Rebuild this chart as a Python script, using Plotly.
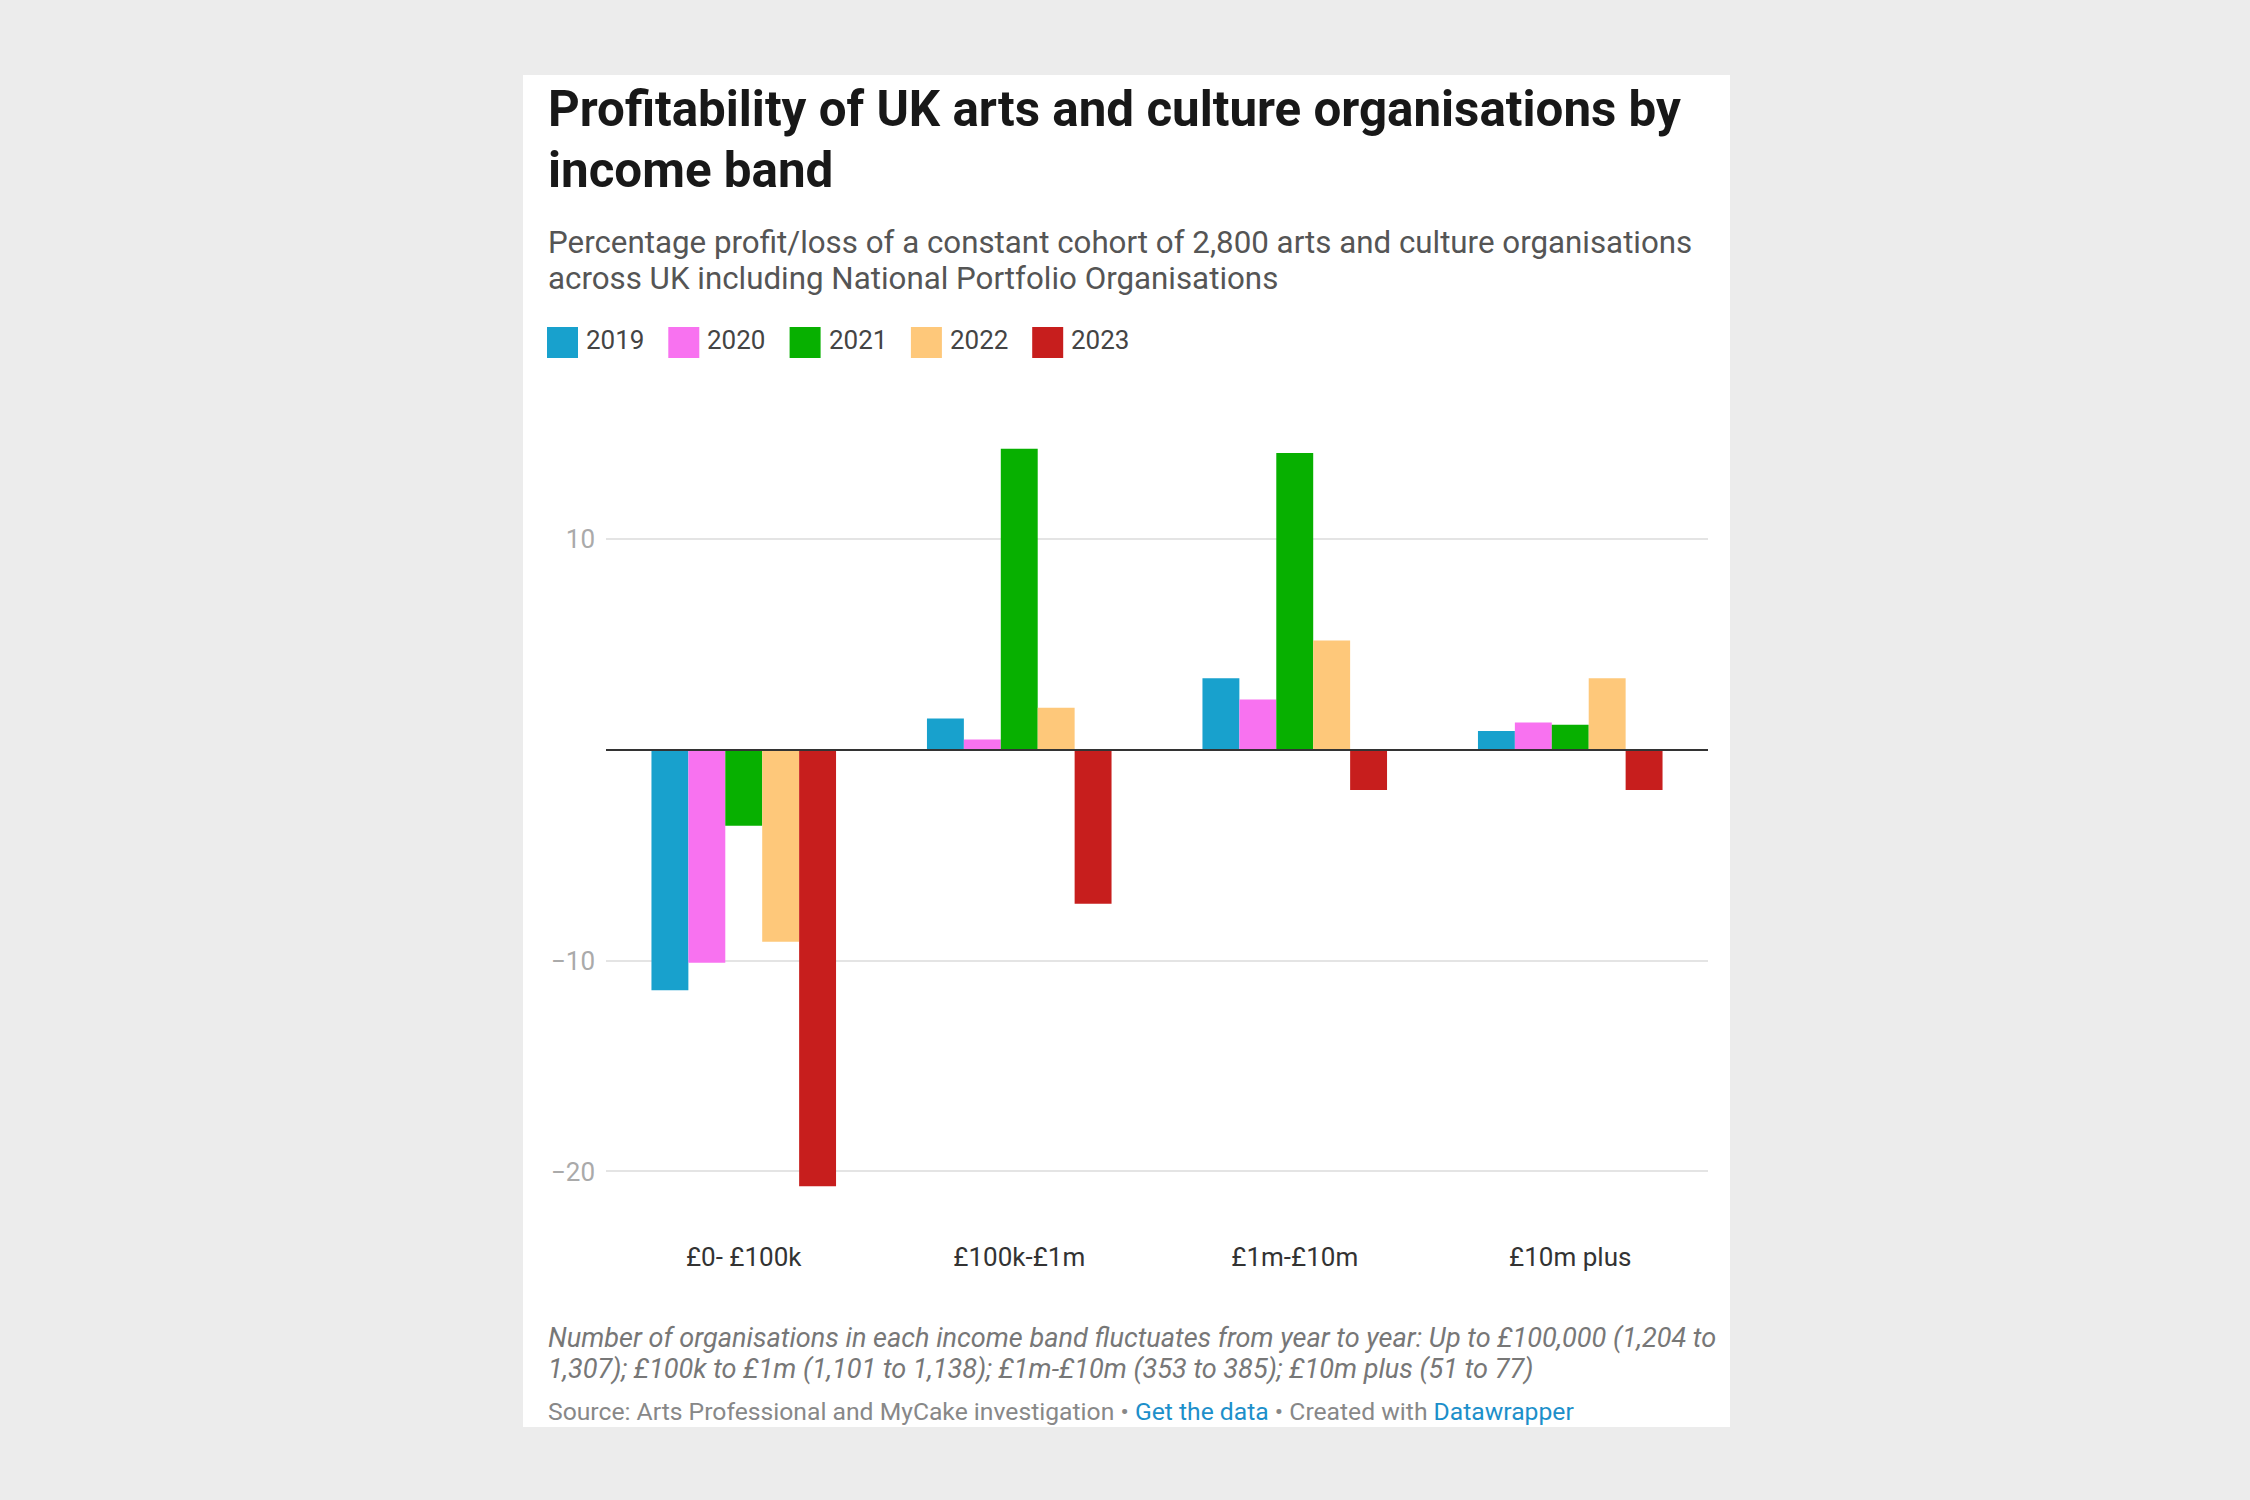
import plotly.graph_objects as go

# ---------------- data ----------------
categories = ["£0- £100k", "£100k-£1m", "£1m-£10m", "£10m plus"]
years = ["2019", "2020", "2021", "2022", "2023"]
colors = ["#18a1cd", "#f872f0", "#07b000", "#fec87a", "#c71e1d"]
v2019 = [-11.4, 1.5, 3.4, 0.9]
v2020 = [-10.1, 0.5, 2.4, 1.3]
v2021 = [-3.6, 14.3, 14.1, 1.2]
v2022 = [-9.1, 2.0, 5.2, 3.4]
v2023 = [-20.7, -7.3, -1.9, -1.9]
series = [v2019, v2020, v2021, v2022, v2023]
ytick_vals = [-20, -10, 10]

title_lines = ["Profitability of UK arts and culture organisations by", "income band"]
subtitle_lines = ["Percentage profit/loss of a constant cohort of 2,800 arts and culture organisations",
                  "across UK including National Portfolio Organisations"]
note_lines = ["Number of organisations in each income band fluctuates from year to year: Up to £100,000 (1,204 to",
              "1,307); £100k to £1m (1,101 to 1,138); £1m-£10m (353 to 385); £10m plus (51 to 77)"]

W, H = 2250, 1500
FONT = "Roboto"

def px(x):
    return x / W

def py(y):
    return 1 - y / H

fig = go.Figure()
for yr, col, vals in zip(years, colors, series):
    fig.add_trace(go.Bar(name=yr, x=categories, y=vals, marker=dict(color=col, line=dict(width=0)),
                         showlegend=False))

# card background
shapes = [dict(type="rect", xref="paper", yref="paper", x0=px(523), x1=px(1730), y0=py(1427), y1=py(75),
               fillcolor="white", line=dict(width=0), layer="below")]
# zero baseline above bars
shapes.append(dict(type="line", xref="x domain", yref="y", x0=0, x1=1, y0=0, y1=0,
                   line=dict(color="#333333", width=2), layer="above"))

annotations = []
# title
for t, yc in zip(title_lines, [109, 170]):
    annotations.append(dict(text="<b>" + t + "</b>", x=px(546), y=py(yc), xref="paper", yref="paper",
                            xanchor="left", yanchor="middle", showarrow=False,
                            font=dict(family=FONT, size=49.3, color="#181818")))
for t, yc in zip(subtitle_lines, [242, 279]):
    annotations.append(dict(text=t, x=px(546), y=py(yc), xref="paper", yref="paper",
                            xanchor="left", yanchor="middle", showarrow=False,
                            font=dict(family=FONT, size=31.3, color="#555555")))
# legend
for i, (yr, col) in enumerate(zip(years, colors)):
    x0 = 547 + i * 121.3
    shapes.append(dict(type="rect", xref="paper", yref="paper", x0=px(x0), x1=px(x0 + 31),
                       y0=py(358), y1=py(327), fillcolor=col, line=dict(width=0)))
    annotations.append(dict(text=yr, x=px(x0 + 37), y=py(340), xref="paper", yref="paper",
                            xanchor="left", yanchor="middle", showarrow=False,
                            font=dict(family=FONT, size=26, color="#444444")))
# notes
for t, yc in zip(note_lines, [1338, 1369]):
    annotations.append(dict(text="<i>" + t + "</i>", x=px(546), y=py(yc), xref="paper", yref="paper",
                            xanchor="left", yanchor="middle", showarrow=False,
                            font=dict(family=FONT, size=27.1, color="#777777")))
annotations.append(dict(
    text="Source: Arts Professional and MyCake investigation • <span style='color:#1d8fca'>Get the data</span>"
         " • Created with <span style='color:#1d8fca'>Datawrapper</span>",
    x=px(546), y=py(1411), xref="paper", yref="paper", xanchor="left", yanchor="middle", showarrow=False,
    font=dict(family=FONT, size=24.7, color="#888888")))

fig.update_layout(
    width=W, height=H,
    margin=dict(l=0, r=0, t=0, b=0),
    paper_bgcolor="#ececec",
    plot_bgcolor="rgba(0,0,0,0)",
    barmode="group", bargap=0.33, bargroupgap=0,
    showlegend=False,
    shapes=shapes, annotations=annotations,
    xaxis=dict(domain=[px(606), px(1708)], showgrid=False, zeroline=False, showline=False, ticks="",
               tickfont=dict(family=FONT, size=26, color="#333333"), ticklabelstandoff=36),
    yaxis=dict(domain=[py(1203), py(412.9)], range=[-21.5, 16], tickvals=ytick_vals,
               showgrid=True, gridcolor="#e4e4e4", gridwidth=2, zeroline=False, showline=False, ticks="",
               tickfont=dict(family=FONT, size=26, color="#aaaaaa"), ticklabelstandoff=10),
    font=dict(family=FONT),
)

fig.write_html("out.html")
